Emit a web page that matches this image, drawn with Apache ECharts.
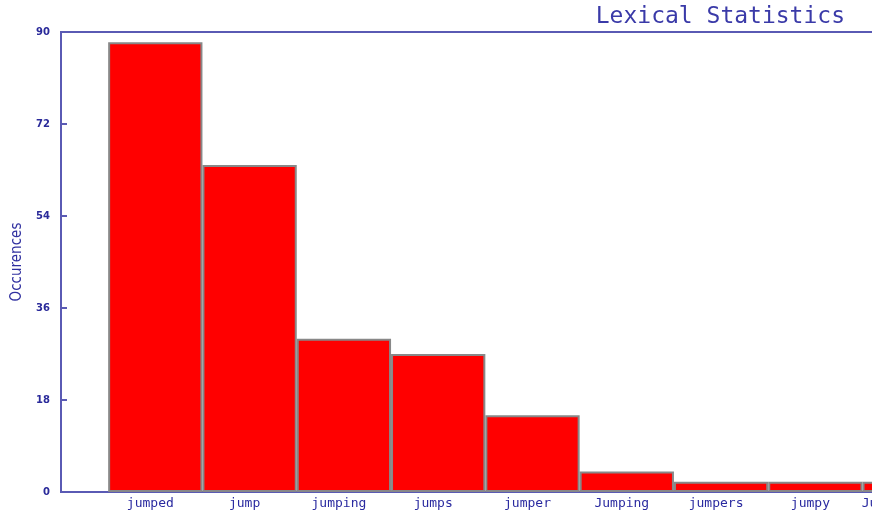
<!DOCTYPE html>
<html>
<head>
<meta charset="utf-8">
<script src="https://cdn.jsdelivr.net/npm/echarts@6/dist/echarts.min.js"></script>
<style>
html,body{margin:0;padding:0;background:#fff;}
#chart{width:872px;height:513px;}
</style>
</head>
<body>
<div id="chart"></div>
<script>
// Data
const categories = ['', 'jumped', 'jump', 'jumping', 'jumps', 'jumper', 'Jumping', 'jumpers', 'jumpy', 'Jumpstarted', ''];
const occurrences = ['-', 88, 64, 30, 27, 15, 4, 2, 2, 2, '-'];
const yTicks = { min: 0, max: 90, interval: 18 };

const blue = '#3030a0';
const lineBlue = '#5a5ab4';

const chart = echarts.init(document.getElementById('chart'));
chart.setOption({
  animation: false,
  backgroundColor: '#ffffff',
  title: {
    text: 'Lexical Statistics',
    right: 22,
    top: 1,
    textStyle: {
      fontFamily: 'DejaVu Sans Mono',
      fontWeight: 'normal',
      fontSize: 23,
      color: '#3a3aa8'
    }
  },
  grid: {
    left: 61,
    top: 32,
    bottom: 21,
    right: -132,
    show: true,
    borderColor: lineBlue,
    borderWidth: 2,
    containLabel: false,
    outerBoundsMode: 'none'
  },
  xAxis: {
    type: 'category',
    data: categories,
    boundaryGap: false,
    axisLine: { show: false },
    axisTick: { show: false },
    axisLabel: {
      interval: 0,
      margin: 5,
      padding: [0, 10, 0, 0],
      fontFamily: 'DejaVu Sans Mono',
      fontSize: 13,
      color: '#2a2aa0'
    }
  },
  yAxis: {
    type: 'value',
    min: yTicks.min,
    max: yTicks.max,
    interval: yTicks.interval,
    name: 'Occurences',
    nameLocation: 'middle',
    nameGap: 36,
    nameTextStyle: {
      fontFamily: 'DejaVu Sans Condensed',
      fontSize: 15,
      color: blue
    },
    splitLine: { show: false },
    axisLine: { show: true, lineStyle: { color: lineBlue, width: 2 } },
    axisTick: { show: true, inside: true, length: 6, lineStyle: { color: lineBlue, width: 2 } },
    axisLabel: {
      margin: 11,
      fontFamily: 'DejaVu Sans',
      fontWeight: 'bold',
      fontSize: 10,
      color: '#2a2a9a'
    }
  },
  series: [{
    type: 'bar',
    data: occurrences,
    barCategoryGap: '0%',
    barWidth: '100%',
    itemStyle: {
      color: '#ff0000',
      borderColor: '#888888',
      borderWidth: 2
    }
  }]
});
</script>
</body>
</html>
